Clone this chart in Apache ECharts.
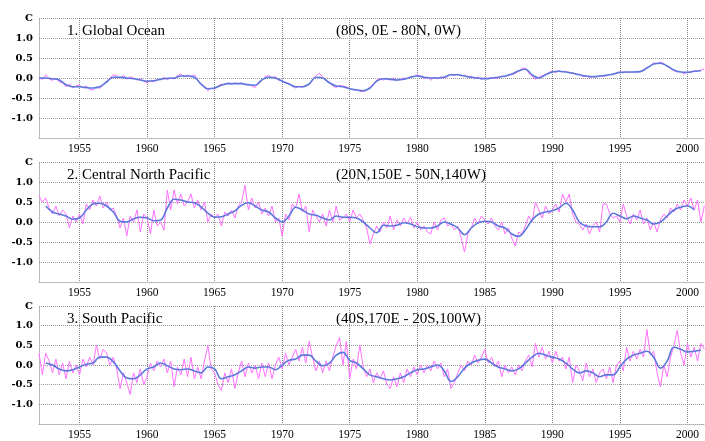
<!DOCTYPE html>
<html>
<head>
<meta charset="utf-8">
<script src="https://cdn.jsdelivr.net/npm/echarts@6/dist/echarts.min.js"></script>
<style>
  html, body { margin: 0; padding: 0; background: #fff; }
  #chart { width: 705px; height: 441px; }
</style>
</head>
<body>
<div id="chart"></div>
<script>
// tick years on the time axis
const tickYears = [1955, 1960, 1965, 1970, 1975, 1980, 1985, 1990, 1995, 2000];
const yTicks = [-1.5, -1.0, -0.5, 0.0, 0.5, 1.0, 1.5];

const panelTitles = ["1. Global Ocean", "2. Central North Pacific", "3. South Pacific"];
const panelRegions = ["(80S, 0E - 80N, 0W)", "(20N,150E - 50N,140W)", "(40S,170E - 20S,100W)"];

// quarterly anomalies (C), 1952.00 .. 2001.25, 4 values per year
const globalRaw = [
  0.02, -0.04, 0.08, -0.02,   -0.06, 0.0, -0.1, -0.12,   -0.22, -0.15, -0.25, -0.2,   -0.18, -0.25, -0.2, -0.28,
  -0.3, -0.22, -0.26, -0.18,  -0.08, 0.0, 0.08, 0.06,    0.0, 0.07, -0.03, 0.03,      0.0, -0.05, -0.02, -0.08,
  -0.12, -0.06, -0.1, -0.03,  -0.05, 0.02, -0.04, 0.01,  -0.03, 0.06, 0.1, 0.03,      0.08, 0.02, 0.08, -0.05,
  -0.18, -0.2, -0.32, -0.25,  -0.28, -0.2, -0.15, -0.17, -0.12, -0.16, -0.12, -0.15,  -0.12, -0.18, -0.15, -0.2,
  -0.24, -0.1, -0.06, 0.04,   0.06, 0.0, 0.04, -0.06,    -0.06, -0.14, -0.13, -0.2,   -0.25, -0.2, -0.24, -0.18,
  -0.16, -0.04, 0.06, 0.12,   0.03, -0.08, -0.1, -0.2,   -0.24, -0.18, -0.2, -0.22,   -0.26, -0.3, -0.28, -0.33,
  -0.34, -0.31, -0.22, -0.15, -0.05, -0.02, -0.05, 0.0,  -0.06, 0.0, -0.07, -0.03,    0.0, -0.02, 0.04, 0.03,
  0.08, 0.05, -0.02, 0.03,    -0.06, 0.02, -0.02, 0.03,  0.0, 0.04, 0.1, 0.06,        0.1, 0.05, 0.07, 0.02,
  0.05, -0.02, 0.03, -0.04,   0.01, -0.03, 0.02, -0.01,  0.0, 0.05, 0.03, 0.08,       0.08, 0.12, 0.16, 0.24,
  0.25, 0.12, 0.04, -0.03,    0.02, 0.06, 0.08, 0.14,    0.17, 0.14, 0.18, 0.15,      0.17, 0.12, 0.14, 0.08,
  0.1, 0.03, 0.06, 0.0,       0.05, 0.02, 0.06, 0.04,    0.05, 0.09, 0.08, 0.13,      0.15, 0.13, 0.15, 0.14,
  0.15, 0.16, 0.15, 0.2,      0.27, 0.3, 0.38, 0.36,     0.4, 0.36, 0.3, 0.24,        0.18, 0.15, 0.16, 0.1,
  0.15, 0.14, 0.18, 0.17,     0.2, 0.23
];
const northPacRaw = [
  0.65, 0.5, 0.6, 0.35,   0.2, 0.4, 0.15, 0.3,    0.2, -0.15, 0.15, 0.0,   0.2, -0.05, 0.45, 0.3,
  0.55, 0.4, 0.65, 0.35,  0.5, 0.3, 0.35, 0.15,   -0.15, 0.1, -0.35, 0.15, 0.0, 0.3, -0.25, 0.2,
  0.1, -0.3, 0.3, -0.1,   0.0, -0.2, 0.8, 0.3,    0.8, 0.45, 0.7, 0.4,     0.5, 0.7, 0.35, 0.55,
  0.3, 0.5, 0.0, 0.2,     0.1, 0.2, -0.1, 0.25,   0.15, 0.3, 0.1, 0.4,     0.5, 0.92, 0.3, 0.6,
  0.35, 0.5, 0.2, 0.35,   0.15, 0.4, 0.0, 0.1,    -0.35, 0.2, 0.05, 0.45,  0.35, 0.7, 0.25, 0.4,
  -0.25, 0.3, 0.15, 0.0,  0.2, -0.1, 0.3, 0.0,    0.4, 0.05, 0.1, 0.2,     0.0, 0.3, 0.1, 0.2,
  0.05, -0.15, -0.55, -0.3, -0.1, -0.25, 0.0, -0.15, 0.15, -0.2, 0.05, -0.1, 0.1, -0.05, 0.12, -0.15,
  0.0, -0.2, -0.1, -0.25, -0.3, 0.0, -0.2, 0.05,  0.1, -0.1, -0.05, -0.2,  -0.1, -0.4, -0.75, -0.3,
  -0.15, 0.1, -0.05, 0.15, 0.05, -0.05, 0.1, -0.1, -0.2, 0.0, -0.3, -0.15, -0.4, -0.6, -0.25, -0.3,
  -0.1, 0.15, 0.0, 0.5,   0.3, 0.1, 0.4, 0.2,     0.3, 0.45, 0.25, 0.7,    0.5, 0.7, 0.2, 0.0,
  -0.05, -0.2, -0.05, -0.3, -0.1, 0.0, -0.25, 0.45, 0.45, 0.2, 0.1, 0.15, 0.0, 0.45, 0.15, -0.05,
  0.2, 0.05, 0.3, -0.05,  0.1, -0.2, 0.0, -0.25,  0.05, 0.2, 0.1, 0.35,    0.25, 0.45, 0.3, 0.55,
  0.4, 0.6, 0.3, 0.55,    0.0, 0.4
];
const southPacRaw = [
  0.3, -0.25, 0.3, 0.1,   -0.2, 0.15, -0.25, 0.05, -0.35, 0.1, -0.2, 0.0,  -0.25, 0.15, -0.05, 0.2,
  0.0, 0.5, 0.15, 0.4,    0.3, 0.0, 0.2, -0.1,     -0.6, -0.2, -0.45, -0.75, -0.2, -0.45, -0.1, -0.5,
  -0.3, 0.05, -0.15, 0.1, -0.05, 0.15, -0.2, 0.1,  -0.55, -0.05, -0.25, 0.15, -0.3, 0.2, -0.35, -0.05,
  -0.35, 0.1, 0.5, -0.1,  -0.2, -0.5, -0.65, -0.2, -0.45, -0.1, -0.6, -0.2, 0.1, -0.3, 0.05, -0.2,
  0.0, -0.35, 0.05, -0.3, 0.05, -0.35, 0.0, 0.2,   -0.1, 0.3, 0.0, 0.2,     0.4, 0.1, 0.45, 0.05,
  0.6, 0.2, -0.15, 0.1,   -0.2, 0.1, -0.15, 0.2,   0.5, 0.7, 0.0, 0.6,      -0.35, 0.15, -0.1, 0.5,
  -0.05, -0.3, -0.1, -0.45, -0.2, -0.35, -0.15, -0.5, -0.6, -0.3, -0.55, -0.2, -0.45, -0.1, -0.3, -0.05,
  -0.25, 0.0, -0.2, 0.0,  -0.15, 0.1, -0.1, 0.05,  -0.3, -0.1, -0.6, -0.45, -0.2, 0.0, -0.15, 0.1,
  0.0, 0.25, 0.05, 0.2,   0.4, 0.05, 0.2, -0.05,   0.1, -0.3, 0.0, -0.2,    -0.05, -0.25, 0.0, -0.15,
  0.1, 0.25, -0.05, 0.55, 0.2, 0.45, 0.15, 0.35,   0.05, 0.35, 0.1, 0.2,    -0.1, 0.2, -0.45, 0.0,
  -0.15, -0.4, 0.05, -0.3, -0.1, -0.45, -0.2, -0.1, -0.35, -0.05, -0.45, 0.0, 0.1, -0.15, 0.45, 0.1,
  0.35, 0.15, 0.4, 0.2,   0.9, 0.25, 0.35, -0.2,   -0.55, 0.0, -0.3, 0.2,   0.5, 0.88, 0.3, 0.0,
  0.55, 0.2, 0.45, 0.1,   0.55, 0.4
];

// smoothed curves, half-year steps
const globalSmoothStart = 1952.0;
const globalSmooth = [
  0.0, 0.0, -0.02, -0.05, -0.17, -0.22, -0.22, -0.24, -0.25, -0.22, -0.1, 0.02, 0.02, 0.0, -0.02, -0.05,
  -0.08, -0.07, -0.03, -0.01, 0.0, 0.05, 0.05, 0.02, -0.15, -0.27, -0.25, -0.18, -0.14, -0.14, -0.14, -0.17,
  -0.18, -0.05, 0.02, 0.0, -0.08, -0.15, -0.22, -0.22, -0.15, 0.02, 0.0, -0.12, -0.2, -0.22, -0.27, -0.3,
  -0.32, -0.25, -0.08, -0.02, -0.03, -0.05, -0.03, 0.02, 0.05, 0.02, 0.0, 0.0, 0.02, 0.08, 0.08, 0.05,
  0.02, 0.0, -0.02, 0.0, 0.02, 0.05, 0.1, 0.18, 0.22, 0.08, 0.0, 0.08, 0.15, 0.17, 0.15, 0.12,
  0.08, 0.05, 0.03, 0.05, 0.07, 0.1, 0.14, 0.15, 0.15, 0.16, 0.25, 0.35, 0.37, 0.3, 0.2, 0.15,
  0.14, 0.17, 0.18
];
const northPacSmoothStart = 1952.5;
const northPacSmooth = [
  0.4, 0.25, 0.2, 0.15, 0.07, 0.1, 0.3, 0.45, 0.47, 0.4, 0.25, 0.02, 0.0, 0.08, 0.12, 0.1,
  0.03, 0.05, 0.35, 0.57, 0.55, 0.5, 0.48, 0.38, 0.22, 0.12, 0.13, 0.2, 0.28, 0.42, 0.48, 0.4,
  0.3, 0.25, 0.1, 0.0, 0.15, 0.37, 0.3, 0.2, 0.17, 0.1, 0.05, 0.15, 0.12, 0.12, 0.1, 0.0,
  -0.15, -0.27, -0.08, -0.1, -0.08, -0.02, -0.05, -0.12, -0.15, -0.15, -0.1, 0.0, -0.05, -0.15, -0.32, -0.15,
  -0.02, 0.02, 0.0, -0.1, -0.15, -0.3, -0.36, -0.2, 0.05, 0.2, 0.25, 0.28, 0.35, 0.47, 0.3, 0.0,
  -0.1, -0.12, -0.12, 0.0, 0.22, 0.15, 0.08, 0.15, 0.1, 0.05, -0.05, 0.0, 0.15, 0.3, 0.37, 0.4,
  0.3
];
const southPacSmoothStart = 1952.5;
const southPacSmooth = [
  0.05, 0.0, -0.1, -0.15, -0.12, -0.05, 0.02, 0.05, 0.2, 0.2, 0.08, -0.15, -0.33, -0.35, -0.25, -0.1,
  -0.05, 0.05, -0.02, -0.1, -0.12, -0.1, -0.15, -0.2, -0.05, -0.1, -0.35, -0.3, -0.25, -0.15, -0.05, -0.08,
  -0.05, -0.05, -0.12, 0.0, 0.12, 0.15, 0.25, 0.25, 0.1, -0.02, 0.05, 0.25, 0.32, 0.12, 0.05, -0.1,
  -0.25, -0.3, -0.35, -0.38, -0.35, -0.3, -0.2, -0.12, -0.1, -0.05, 0.0, -0.15, -0.42, -0.3, -0.08, 0.05,
  0.12, 0.15, 0.05, -0.05, -0.1, -0.15, -0.1, 0.05, 0.2, 0.3, 0.25, 0.2, 0.15, 0.05, -0.1, -0.2,
  -0.15, -0.2, -0.3, -0.25, -0.25, -0.05, 0.15, 0.25, 0.3, 0.35, 0.2, -0.08, 0.1, 0.45, 0.4, 0.33,
  0.35, 0.38
];

const rawStart = 1952.0;
const xMin = 1952, xMax = 2001.3;

function toPairs(vals, start, step) {
  return vals.map((v, i) => [start + i * step, v]);
}

const panels = [
  { raw: globalRaw, smooth: globalSmooth, sStart: globalSmoothStart },
  { raw: northPacRaw, smooth: northPacSmooth, sStart: northPacSmoothStart },
  { raw: southPacRaw, smooth: southPacSmooth, sStart: southPacSmoothStart },
];
const gridTops = [18, 162, 306];

const grids = [], xAxes = [], yAxes = [], series = [], titles = [];
panels.forEach((p, i) => {
  grids.push({ left: 39, right: 0, top: gridTops[i], height: 120, show: false });
  xAxes.push({
    type: "value", gridIndex: i, min: xMin, max: xMax,
    axisLine: { show: true, onZero: false, lineStyle: { color: "#aaa", type: "dotted" } },
    axisTick: { show: false, customValues: tickYears },
    axisLabel: {
      customValues: tickYears, margin: 5, color: "#000",
      fontFamily: "Liberation Serif", fontSize: 11.5,
      formatter: (v) => String(v),
    },
    splitLine: { show: true, lineStyle: { color: "#888", type: "dotted" } },
  });
  yAxes.push({
    type: "value", gridIndex: i, min: -1.5, max: 1.5, interval: 0.5,
    axisLine: { show: true, lineStyle: { color: "#aaa", type: "dotted" } },
    axisTick: { show: false },
    axisLabel: {
      margin: 6, color: "#000", fontFamily: "DejaVu Serif", fontWeight: "bold", fontSize: 10,
      formatter: (v) => (v === 1.5 ? "C" : v === -1.5 ? "" : v.toFixed(1)),
    },
    splitLine: { show: true, lineStyle: { color: "#999", type: "dotted" } },
  });
  series.push({
    type: "line", xAxisIndex: i, yAxisIndex: i, showSymbol: false, silent: true,
    data: toPairs(p.raw, rawStart, 0.25),
    lineStyle: { color: "#ff70ff", width: 1 },
  });
  series.push({
    type: "line", xAxisIndex: i, yAxisIndex: i, showSymbol: false, silent: true, smooth: 0.4,
    data: toPairs(p.smooth, p.sStart, 0.5),
    lineStyle: { color: "#5a78dc", width: 1.6 },
  });
  titles.push({
    text: panelTitles[i], left: 62, top: gridTops[i] + 1,
    textStyle: { fontFamily: "Liberation Serif", fontSize: 15, fontWeight: "normal", color: "#000" },
  });
  titles.push({
    text: panelRegions[i], left: 331, top: gridTops[i] + 1,
    textStyle: { fontFamily: "Liberation Serif", fontSize: 15, fontWeight: "normal", color: "#000" },
  });
});

const chart = echarts.init(document.getElementById("chart"));
chart.setOption({
  animation: false,
  backgroundColor: "#fff",
  title: titles,
  grid: grids,
  xAxis: xAxes,
  yAxis: yAxes,
  series: series,
});
</script>
</body>
</html>
